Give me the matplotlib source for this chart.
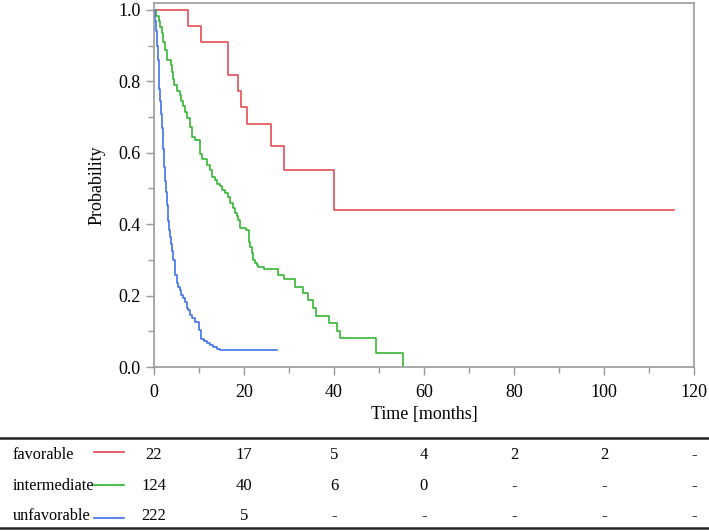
import matplotlib
matplotlib.use("Agg")
import matplotlib.pyplot as plt
from matplotlib.lines import Line2D
from matplotlib.ticker import MultipleLocator
from matplotlib.transforms import blended_transform_factory

# ---------------- data ----------------
fav_t = [0, 7.5, 10.4, 16.4, 18.7, 19.3, 20.7, 25.9, 28.9, 40.0, 115.6]
fav_s = [1.0, 0.955, 0.909, 0.818, 0.773, 0.727, 0.682, 0.620, 0.551, 0.441, 0.441]

int_t = [0, 0.5, 1.0, 1.3, 1.7, 2.1, 2.4, 2.8, 3.7, 3.9, 4.2, 4.5, 5.0, 5.8, 6.1,
         6.5, 6.9, 7.3, 8.0, 8.4, 9.1, 10.2, 10.6, 11.7, 12.4, 12.8, 13.6, 14.1,
         14.7, 15.0, 15.8, 16.5, 16.9, 17.6, 18.0, 18.4, 18.7, 19.1, 20.4, 21.0,
         21.3, 21.7, 22.1, 22.4, 22.8, 23.2, 24.4, 27.6, 28.9, 31.3, 33.0, 34.3,
         35.3, 36.1, 38.9, 40.7, 41.3, 49.3, 55.3]
int_s = [1.0, 0.984, 0.968, 0.952, 0.935, 0.911, 0.887, 0.860, 0.847, 0.827,
         0.806, 0.790, 0.774, 0.762, 0.746, 0.730, 0.714, 0.697, 0.673, 0.645,
         0.636, 0.598, 0.582, 0.566, 0.552, 0.533, 0.524, 0.514, 0.508, 0.496,
         0.487, 0.477, 0.458, 0.444, 0.430, 0.424, 0.412, 0.388, 0.384, 0.351,
         0.337, 0.318, 0.300, 0.290, 0.286, 0.281, 0.274, 0.258, 0.246, 0.225,
         0.206, 0.188, 0.164, 0.143, 0.122, 0.101, 0.080, 0.038, 0.0]

unf_t = [0, 0.2, 0.4, 0.6, 0.8, 1.0, 1.2, 1.4, 1.6, 1.8, 2.0, 2.2, 2.4, 2.6, 2.8,
         3.0, 3.2, 3.4, 3.6, 3.8, 4.0, 4.3, 4.7, 5.0, 5.4, 5.8, 6.1, 6.5, 6.9,
         7.3, 7.6, 8.0, 8.4, 9.1, 9.9, 10.1, 10.4, 11.0, 11.7, 12.4, 13.2, 13.9,
         14.7, 27.3]
unf_s = [1.0, 0.97, 0.94, 0.90, 0.86, 0.82, 0.78, 0.745, 0.71, 0.67, 0.61, 0.56,
         0.52, 0.49, 0.455, 0.43, 0.41, 0.385, 0.365, 0.345, 0.325, 0.30, 0.258,
         0.234, 0.225, 0.216, 0.202, 0.192, 0.183, 0.164, 0.160, 0.146, 0.136,
         0.127, 0.122, 0.104, 0.078, 0.074, 0.068, 0.062, 0.055, 0.050, 0.047,
         0.047]

groups = ["favorable", "intermediate", "unfavorable"]
colors = ["#e2474f", "#2db52d", "#3a6ee6"]
risk_times = [0, 20, 40, 60, 80, 100, 120]
risk_counts = [
    ["22", "17", "5", "4", "2", "2", "-"],
    ["124", "40", "6", "0", "-", "-", "-"],
    ["222", "5", "-", "-", "-", "-", "-"],
]

# ---------------- figure ----------------
plt.rcParams['font.family'] = ['Liberation Serif', 'DejaVu Serif']
W, H = 709, 532
fig = plt.figure(figsize=(W / 100, H / 100), dpi=100)
ax = fig.add_axes([154 / W, 1 - 367 / H, (694 - 154) / W, (367 - 3) / H])

for t, s, c in zip([fav_t, int_t, unf_t], [fav_s, int_s, unf_s], colors):
    ax.step(t, s, where='post', color=c, lw=1.15)

ax.set_xlim(0, 120)
ax.set_ylim(0, (367 - 3) / 357)
ax.xaxis.set_major_locator(MultipleLocator(20))
ax.xaxis.set_minor_locator(MultipleLocator(10))
ax.yaxis.set_major_locator(MultipleLocator(0.2))
ax.yaxis.set_minor_locator(MultipleLocator(0.1))
ax.set_yticks([0, 0.2, 0.4, 0.6, 0.8, 1.0])
ax.set_yticklabels(["0.0", "0.2", "0.4", "0.6", "0.8", "1.0"])
gray = "#999999"
for sp in ax.spines.values():
    sp.set_color(gray)
    sp.set_linewidth(1.2)
ax.tick_params(which='both', direction='out', colors=gray, labelcolor='black',
               labelsize=13)
ax.tick_params(which='major', length=6, width=1.0)
ax.tick_params(which='minor', length=4, width=1.0)
ax.tick_params(axis='x', pad=6)
ax.set_xlabel("Time [months]", fontsize=13, labelpad=4)
ax.set_ylabel("Probability", fontsize=13, labelpad=9)

# ---------------- risk table ----------------
tr = blended_transform_factory(ax.transData, fig.transFigure)
fig.add_artist(Line2D([0, 1], [1 - 438 / H] * 2, color='#222222', lw=1.8,
                      transform=fig.transFigure))
fig.add_artist(Line2D([0, 1], [1 - 528 / H] * 2, color='#222222', lw=1.8,
                      transform=fig.transFigure))
row_y = [455, 486, 516]
line_y = [452, 485, 518]
for g, c, counts, ry, ly in zip(groups, colors, risk_counts, row_y, line_y):
    yf = 1 - ry / H
    fig.text(12.5 / W, yf, g, fontsize=11.7, ha='left', va='center')
    fig.add_artist(Line2D([94 / W, 124 / W], [1 - ly / H] * 2, color=c, lw=1.2,
                          transform=fig.transFigure))
    for tt, n in zip(risk_times, counts):
        fig.text(tt, yf, n, transform=tr, fontsize=12, ha='center', va='center')

fig.savefig("out.png", dpi=100)
